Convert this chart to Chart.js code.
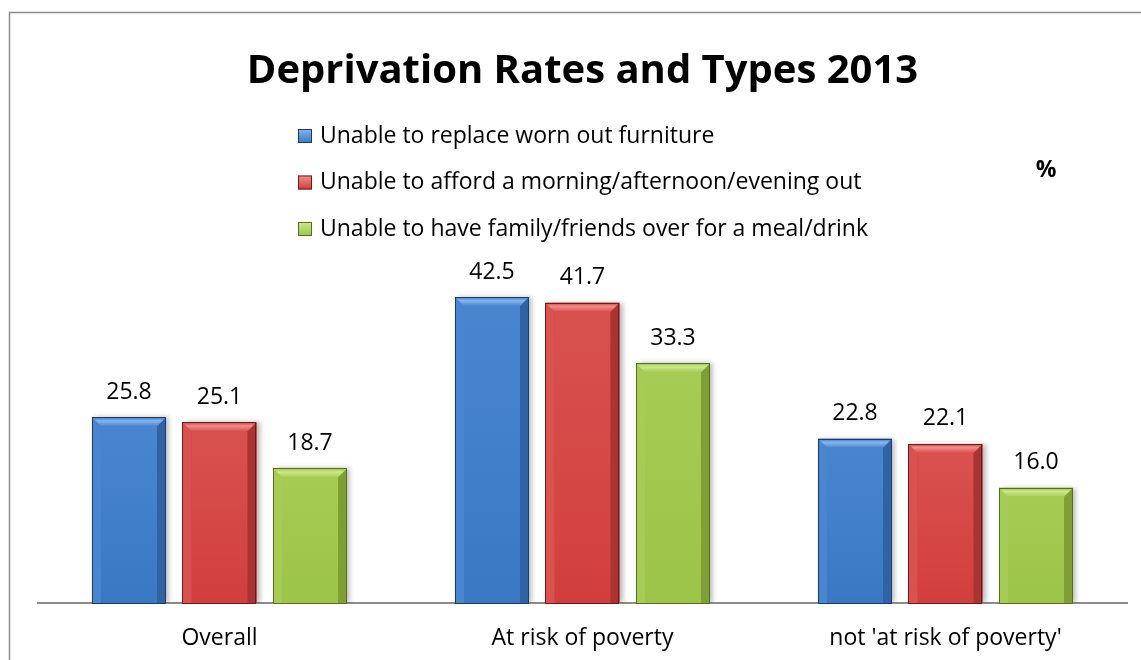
<!DOCTYPE html>
<html>
<head>
<meta charset="utf-8">
<script src="https://cdn.jsdelivr.net/npm/chart.js@4.4.0/dist/chart.umd.min.js"></script>
<style>
  html, body { margin: 0; padding: 0; background: #fff; }
  #wrap { width: 1141px; height: 660px; position: relative; }
</style>
</head>
<body>
<div id="wrap"><canvas id="chart"></canvas></div>
<script>
var categories = ["Overall", "At risk of poverty", "not 'at risk of poverty'"];
var seriesNames = [
  "Unable to replace worn out furniture",
  "Unable to afford a morning/afternoon/evening out",
  "Unable to have family/friends over for a meal/drink"
];
var furniture = [25.8, 42.5, 22.8];
var eveningOut = [25.1, 41.7, 22.1];
var familyMeal = [18.7, 33.3, 16.0];

var FONT = "'Open Sans', 'Noto Sans', sans-serif";
var palette = [
  { face: "#3b78c4", top: "#86b6ec", left: "#4a86d0", right: "#2f63a6", line: "#1d3b63" },
  { face: "#d13f3d", top: "#f08e8c", left: "#d95250", right: "#ab3331", line: "#6a1c1b" },
  { face: "#9cc447", top: "#cde88d", left: "#a7cc55", right: "#7f9f34", line: "#566e22" }
];

var frame = {
  id: "frame",
  beforeDraw: function (c) {
    var ctx = c.ctx;
    ctx.save();
    ctx.strokeStyle = "#8c8c8c";
    ctx.lineWidth = 1.5;
    ctx.beginPath();
    ctx.moveTo(1141, 12.5);
    ctx.lineTo(9.5, 12.5);
    ctx.lineTo(9.5, 660);
    ctx.stroke();
    ctx.restore();
  }
};

var shadow = {
  id: "shadow",
  beforeDatasetsDraw: function (c) {
    var ctx = c.ctx;
    ctx.save();
    ctx.shadowColor = "rgba(0,0,0,0.28)";
    ctx.shadowBlur = 5;
    ctx.shadowOffsetX = 3;
    ctx.shadowOffsetY = 0;
  },
  afterDatasetsDraw: function (c) {
    var ctx = c.ctx;
    ctx.restore();
    c.data.datasets.forEach(function (ds, i) {
      var p = palette[i];
      c.getDatasetMeta(i).data.forEach(function (bar, j) {
        var x0 = bar.x - bar.width / 2, x1 = bar.x + bar.width / 2;
        var t = bar.y, b = bar.base, k = 9;
        ctx.save();
        var g = ctx.createLinearGradient(0, t, 0, b);
        g.addColorStop(0, p.left);
        g.addColorStop(1, p.face);
        ctx.fillStyle = g;
        ctx.fillRect(x0 + k, t + k, x1 - x0 - 2 * k, b - t - k);
        ctx.fillStyle = p.left;
        ctx.beginPath();
        ctx.moveTo(x0, t); ctx.lineTo(x0 + k, t + k); ctx.lineTo(x0 + k, b); ctx.lineTo(x0, b);
        ctx.closePath(); ctx.fill();
        ctx.fillStyle = p.right;
        ctx.beginPath();
        ctx.moveTo(x1, t); ctx.lineTo(x1 - k, t + k); ctx.lineTo(x1 - k, b); ctx.lineTo(x1, b);
        ctx.closePath(); ctx.fill();
        var tg = ctx.createLinearGradient(0, t, 0, t + k);
        tg.addColorStop(0, p.face);
        tg.addColorStop(0.4, p.top);
        tg.addColorStop(1, p.left);
        ctx.fillStyle = tg;
        ctx.beginPath();
        ctx.moveTo(x0, t); ctx.lineTo(x1, t); ctx.lineTo(x1 - k, t + k); ctx.lineTo(x0 + k, t + k);
        ctx.closePath(); ctx.fill();
        ctx.strokeStyle = p.line;
        ctx.lineWidth = 1;
        ctx.strokeRect(Math.round(x0) + 0.5, Math.round(t) + 0.5, Math.round(x1 - x0) - 1, Math.round(b - t));
        ctx.fillStyle = "#000";
        ctx.font = "23px " + FONT;
        ctx.textAlign = "center";
        ctx.textBaseline = "middle";
        ctx.fillText(ds.data[j].toFixed(1), bar.x, t - 25);
        ctx.restore();
      });
    });
  }
};

var legendBox = {
  id: "legendBox",
  afterDraw: function (c) {
    var ctx = c.ctx;
    ctx.save();
    ctx.font = "23px " + FONT;
    ctx.textBaseline = "middle";
    ctx.textAlign = "left";
    seriesNames.forEach(function (name, i) {
      var y = 136 + i * 46.5, p = palette[i];
      var g = ctx.createLinearGradient(0, y - 7, 0, y + 7);
      g.addColorStop(0, p.top);
      g.addColorStop(1, p.face);
      ctx.fillStyle = g;
      ctx.fillRect(298, y - 7, 14, 14);
      ctx.strokeStyle = p.line;
      ctx.lineWidth = 1;
      ctx.strokeRect(298.5, y - 6.5, 13, 13);
      ctx.fillStyle = "#000";
      ctx.fillText(name, 320, y);
    });
    ctx.font = "bold 23px " + FONT;
    ctx.textAlign = "center";
    ctx.fillText("%", 1046, 170);
    ctx.restore();
  }
};

new Chart(document.getElementById("chart"), {
  type: "bar",
  data: {
    labels: categories,
    datasets: [furniture, eveningOut, familyMeal].map(function (d, i) {
      return {
        label: seriesNames[i],
        data: d,
        backgroundColor: palette[i].face,
        borderWidth: 0,
        categoryPercentage: 0.748,
        barPercentage: 0.818
      };
    })
  },
  options: {
    responsive: true,
    maintainAspectRatio: false,
    animation: false,
    layout: { padding: { left: 38, right: 14, top: 0, bottom: 9 } },
    plugins: {
      legend: { display: false },
      tooltip: { enabled: false },
      title: {
        display: true,
        text: "Deprivation Rates and Types 2013",
        color: "#000",
        font: { family: FONT, size: 40, weight: "bold", lineHeight: 1.2 },
        padding: { top: 48, bottom: 147 }
      }
    },
    scales: {
      x: {
        grid: { display: false, drawTicks: false },
        border: { display: true, color: "#8c8c8c", width: 2 },
        ticks: { color: "#000", padding: 22, font: { family: FONT, size: 23 } },
        afterFit: function (s) { s.height = 48; }
      },
      y: { display: false, min: 0, max: 50 }
    }
  },
  plugins: [frame, shadow, legendBox]
});
</script>
</body>
</html>
